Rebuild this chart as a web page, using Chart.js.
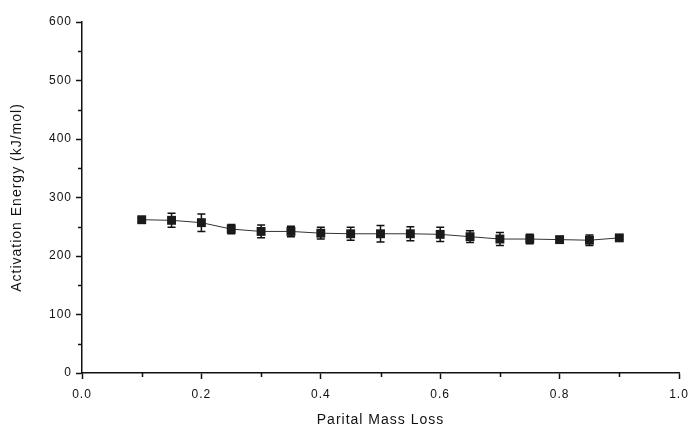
<!DOCTYPE html>
<html>
<head>
<meta charset="utf-8">
<script src="https://cdn.jsdelivr.net/npm/chart.js@4.4.1/dist/chart.umd.min.js"></script>
<style>
  html, body { margin: 0; padding: 0; background: #fff; }
  #wrap { width: 689px; height: 424px; }
</style>
</head>
<body>
<div id="wrap"><canvas id="chart" width="689" height="424"></canvas></div>
<script>
// perdas de massa parciais (eixo x)
const massLoss = [0.1, 0.15, 0.2, 0.25, 0.3, 0.35, 0.4, 0.45, 0.5, 0.55, 0.6, 0.65, 0.7, 0.75, 0.8, 0.85, 0.9];
// energia de ativacao (kJ/mol) e barras de erro
const energy = [262, 261, 257, 246, 242, 242, 239, 238, 238, 238, 237, 233, 229, 229, 228, 227, 231];
const errBar = [3, 12, 15, 8, 11, 9, 10, 11, 14, 12, 12, 10, 11, 8, 4, 9, 3];

// ticks menores sem rotulo
const yMinor = [50, 150, 250, 350, 450, 550];
const xMinor = [0.1, 0.3, 0.5, 0.7, 0.9];

const points = massLoss.map((x, i) => ({ x: x, y: energy[i] }));

// barras de erro desenhadas pelas escalas do grafico
const errorBars = {
  id: 'errorBars',
  beforeDatasetsDraw(chart) {
    const ctx = chart.ctx;
    const xs = chart.scales.x, ys = chart.scales.y;
    ctx.save();
    ctx.strokeStyle = '#111';
    ctx.lineWidth = 1.5;
    massLoss.forEach((x, i) => {
      const px = xs.getPixelForValue(x);
      const top = ys.getPixelForValue(energy[i] + errBar[i]);
      const bot = ys.getPixelForValue(energy[i] - errBar[i]);
      ctx.beginPath();
      ctx.moveTo(px, top); ctx.lineTo(px, bot);
      ctx.moveTo(px - 4, top); ctx.lineTo(px + 4, top);
      ctx.moveTo(px - 4, bot); ctx.lineTo(px + 4, bot);
      ctx.stroke();
    });
    ctx.restore();
  }
};

const minorTicks = {
  id: 'minorTicks',
  afterDraw(chart) {
    const ctx = chart.ctx;
    const xs = chart.scales.x, ys = chart.scales.y;
    const area = chart.chartArea;
    ctx.save();
    ctx.strokeStyle = '#111';
    ctx.lineWidth = 1.5;
    ctx.beginPath();
    yMinor.forEach(v => {
      const p = Math.round(ys.getPixelForValue(v)) + 0.5;
      ctx.moveTo(area.left, p); ctx.lineTo(area.left - 4, p);
    });
    xMinor.forEach(v => {
      const p = Math.round(xs.getPixelForValue(v)) + 0.5;
      ctx.moveTo(p, area.bottom); ctx.lineTo(p, area.bottom + 4);
    });
    ctx.stroke();
    ctx.restore();
  }
};

const spacing = {
  id: 'spacing',
  beforeDraw(chart) { chart.ctx.letterSpacing = '1px'; }
};

const ctx = document.getElementById('chart').getContext('2d');
new Chart(ctx, {
  type: 'scatter',
  data: {
    datasets: [{
      data: points,
      showLine: true,
      borderColor: '#333',
      borderWidth: 1,
      pointStyle: 'rect',
      pointRadius: 6.3,
      pointBackgroundColor: '#1a1a1a',
      pointBorderColor: '#1a1a1a',
      pointBorderWidth: 0
    }]
  },
  options: {
    responsive: false,
    animation: false,
    layout: { padding: { top: 22, right: 10, left: 0, bottom: 0 } },
    plugins: { legend: { display: false }, tooltip: { enabled: false } },
    scales: {
      x: {
        type: 'linear',
        min: 0, max: 1,
        afterFit: s => { s.height = 51; s.paddingRight = 0; s.paddingLeft = 0; },
        border: { display: true, color: '#111', width: 1.5 },
        grid: { display: true, drawOnChartArea: false, tickLength: 6, tickColor: '#111', tickWidth: 1.5 },
        ticks: {
          stepSize: 0.2, padding: 8, color: '#111',
          font: { family: 'Liberation Sans, Arial', size: 12 },
          maxRotation: 0,
          callback: v => v.toFixed(1)
        },
        title: {
          display: true, text: 'Parital Mass Loss', color: '#111',
          font: { family: 'Liberation Sans, Arial', size: 14, lineHeight: 0.6 },
          padding: { top: 0, bottom: 0 }
        }
      },
      y: {
        min: 0, max: 600,
        afterFit: s => { s.width = 82; },
        border: { display: true, color: '#111', width: 1.5 },
        grid: { display: true, drawOnChartArea: false, tickLength: 6, tickColor: '#111', tickWidth: 1.5 },
        ticks: {
          stepSize: 100, padding: 4, color: '#111',
          font: { family: 'Liberation Sans, Arial', size: 12 }
        },
        title: {
          display: true, text: 'Activation Energy (kJ/mol)', color: '#111',
          font: { family: 'Liberation Sans, Arial', size: 14, lineHeight: 1 },
          padding: { top: 10, bottom: 0 }
        }
      }
    }
  },
  plugins: [spacing, errorBars, minorTicks]
});
</script>
</body>
</html>
